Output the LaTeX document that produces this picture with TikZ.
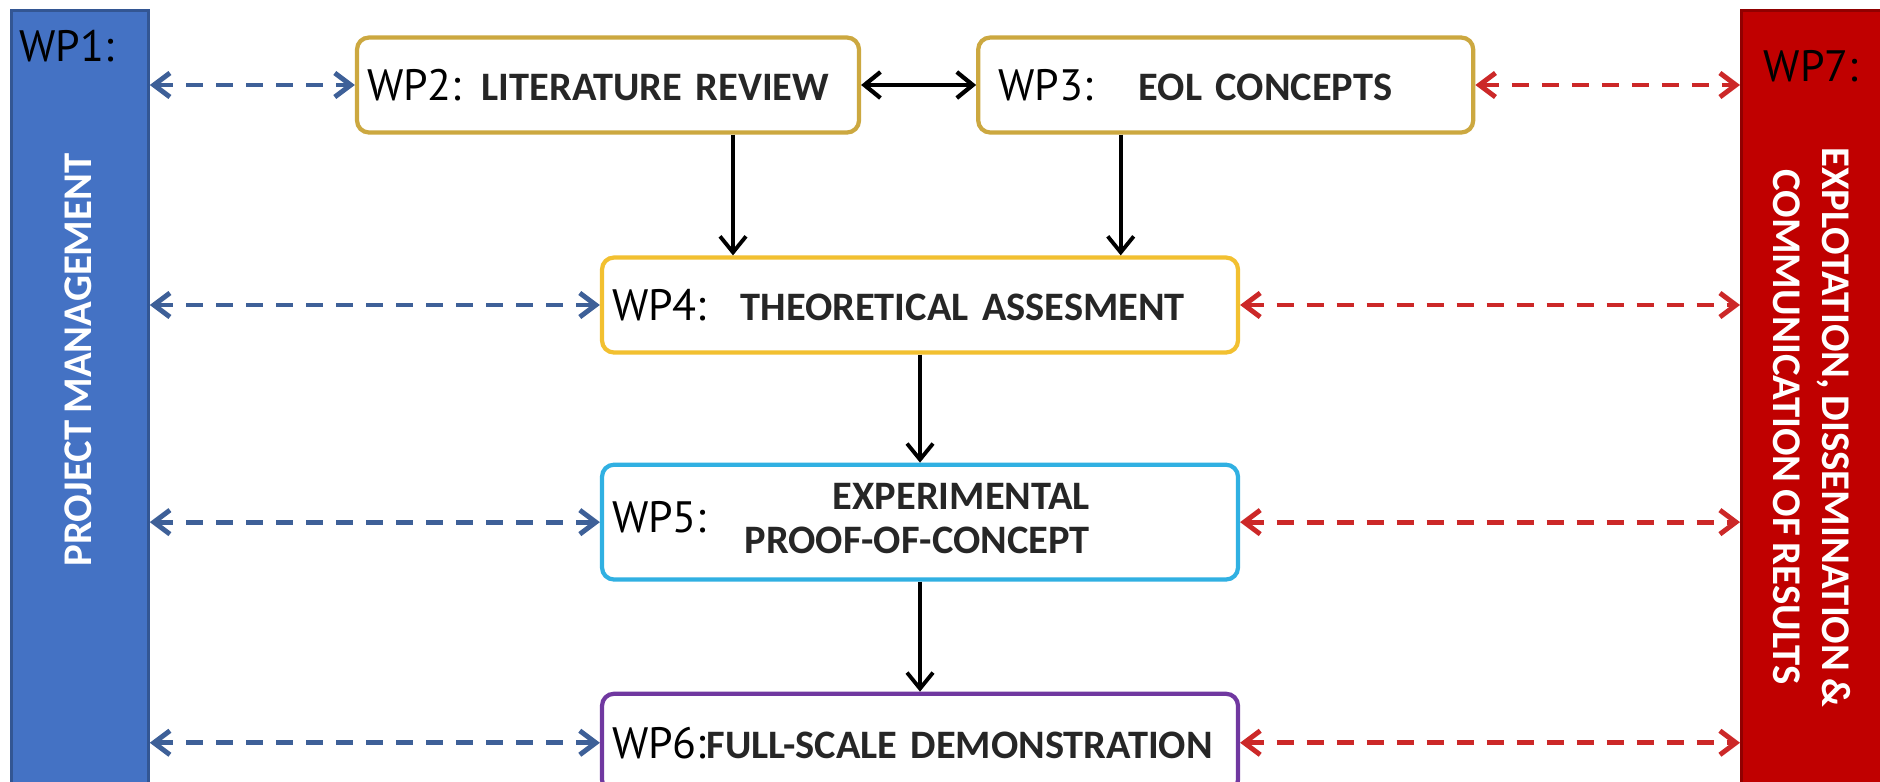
\documentclass[tikz,border=0pt]{standalone}
\usepackage{fontspec}
\setmainfont{Carlito}[WordSpace=0.75]
\newfontfamily\wpfont{PT Sans}
\definecolor{pmblue}{RGB}{68,114,196}
\definecolor{edred}{RGB}{192,0,0}
\definecolor{pmdash}{RGB}{62,96,152}
\definecolor{eddash}{RGB}{204,40,40}
\definecolor{goldline}{RGB}{204,168,64}
\definecolor{yellowline}{RGB}{242,192,48}
\definecolor{cyanline}{RGB}{48,176,226}
\definecolor{purpleline}{RGB}{112,56,160}
\definecolor{tasktext}{RGB}{38,38,38}
\usetikzlibrary{arrows.meta,positioning,calc}
\newcommand{\wplbl}[1]{{\wpfont\mdseries\fontsize{12.5}{15}\selectfont\color{black}#1}}

\begin{document}
\begin{tikzpicture}[
      box/.style={draw, rounded corners=0.12cm, line width=1.2pt, fill=white,
                  minimum height=0.95cm, inner xsep=0.1cm, align=left,
                  font=\fontsize{11.5}{13.5}\selectfont\bfseries, text=tasktext},
      wpbar/.style={draw=#1!75!black, fill=#1, line width=0.8pt,
                  minimum height=7.74cm, anchor=south west},
      bartext/.style={text=white, font=\fontsize{11.6}{14}\selectfont\bfseries, align=center},
      wplabel/.style={font=\wpfont\fontsize{12.5}{15}\selectfont, inner sep=0pt},
      arr/.style={-{Straight Barb[length=1.6mm,width=2.6mm]}, line width=1.1pt},
      dblarr/.style={{Straight Barb[length=1.6mm,width=2.6mm]}-{Straight Barb[length=1.6mm,width=2.6mm]}, line width=1.2pt},
      link/.style={draw=#1, line width=1.4pt, dash pattern=on 1.7mm off 1.3mm,
                  {Straight Barb[length=1.6mm,width=2.4mm]}-{Straight Barb[length=1.6mm,width=2.4mm]}}
    ]
      \useasboundingbox[fill=white] (0,0) rectangle (18.8,7.81);

      \node[wpbar=pmblue, minimum width=1.37cm] (wp1) at (0.10,-0.05) {};
      \node[wpbar=edred, minimum width=1.5cm] (wp7) at (17.40,-0.05) {};
      \node[wplabel] (wp1lbl) at (0.665,7.35) {WP1:};
      \node[wplabel] (wp7lbl) at (18.11,7.15) {WP7:};
      \node[bartext, rotate=90] (pmtext) at (0.785,4.21) {PROJECT MANAGEMENT};
      \node[bartext, rotate=-90] (edtext) at (18.12,3.54) {EXPLOTATION, DISSEMINATION \&\\COMMUNICATION OF RESULTS};

      \node[box, draw=goldline, text width=4.82cm] (wp2) at (6.08,6.96) {\wplbl{WP2:} LITERATURE REVIEW};
      \node[box, draw=goldline, text width=4.75cm, right=1.15cm of wp2] (wp3) {\hspace*{0.1cm}\wplbl{WP3:}\hspace{0.46cm}EOL CONCEPTS};
      \node[box, draw=yellowline, text width=6.16cm] (wp4) at (9.20,4.76) {\wplbl{WP4:}\hspace{0.34cm}THEORETICAL ASSESMENT};
      \node[box, draw=cyanline, text width=6.16cm, below=1.08cm of wp4] (wp5)
        {\wplbl{WP5:}\hspace{0.38cm}\begin{tabular}{@{}r@{}}EXPERIMENTAL\\[-1pt]PROOF-OF-CONCEPT\end{tabular}};
      \node[box, draw=purpleline, text width=6.16cm, minimum height=0.98cm, below=1.10cm of wp5] (wp6) {\wplbl{WP6:}FULL-SCALE DEMONSTRATION};

      \draw[dblarr] (wp2) -- (wp3);
      \draw[arr] ([xshift=1.25cm]wp2.south) -- ([xshift=1.25cm]wp2.south |- wp4.north);
      \draw[arr] ([xshift=-1.05cm]wp3.south) -- ([xshift=-1.05cm]wp3.south |- wp4.north);
      \draw[arr] (wp4) -- (wp5);
      \draw[arr] (wp5) -- (wp6);

      \draw[link=pmdash] (wp1.east |- wp2.west) -- (wp2.west);
      \draw[link=pmdash] (wp1.east |- wp4.west) -- (wp4.west);
      \draw[link=pmdash] (wp1.east |- wp5.west) -- (wp5.west);
      \draw[link=pmdash] (wp1.east |- wp6.west) -- (wp6.west);
      \draw[link=eddash] (wp3.east) -- (wp7.west |- wp3.east);
      \draw[link=eddash] (wp4.east) -- (wp7.west |- wp4.east);
      \draw[link=eddash] (wp5.east) -- (wp7.west |- wp5.east);
      \draw[link=eddash] (wp6.east) -- (wp7.west |- wp6.east);
    \end{tikzpicture}
\end{document}
